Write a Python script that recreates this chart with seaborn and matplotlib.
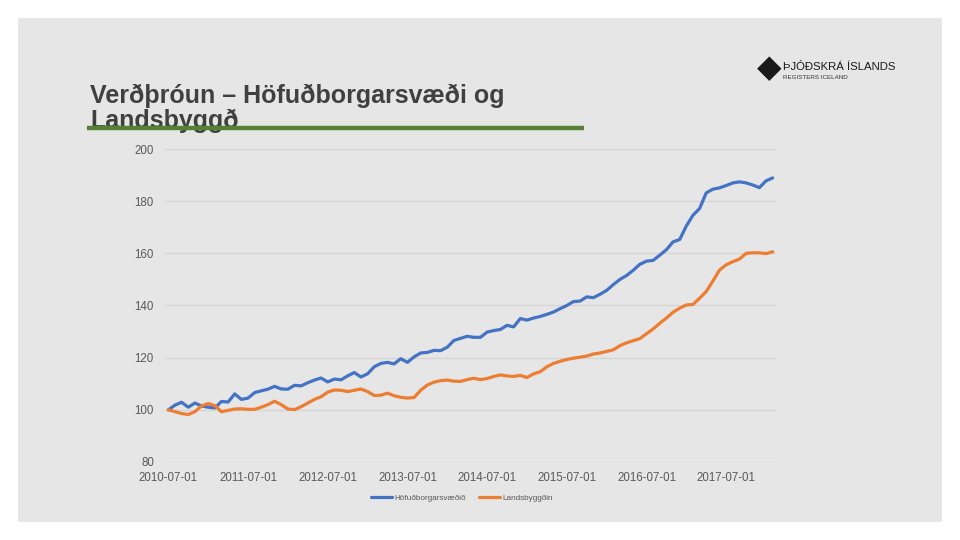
import pandas as pd
import matplotlib
matplotlib.use('Agg')
import matplotlib.pyplot as plt
import seaborn as sns
from matplotlib.patches import Rectangle

# Vísitölur, mánaðarleg gildi 2010-07 til 2018-02
hofudborg = [100.0, 101.8, 102.9, 101.0, 102.6, 101.5, 101.0, 100.7, 103.2, 103.0, 106.1, 104.0,
             104.5, 106.6, 107.3, 107.9, 109.0, 108.0, 107.9, 109.4, 109.2, 110.4, 111.4, 112.2,
             110.7, 111.8, 111.5, 113.0, 114.3, 112.6, 113.8, 116.5, 117.8, 118.2, 117.6, 119.6,
             118.2, 120.3, 121.8, 122.0, 122.8, 122.7, 124.0, 126.6, 127.4, 128.2, 127.8, 127.8,
             129.8, 130.4, 130.8, 132.4, 131.8, 135.0, 134.4, 135.2, 135.8, 136.6, 137.5, 138.8,
             140.0, 141.5, 141.7, 143.3, 143.0, 144.3, 145.8, 148.0, 150.0, 151.5, 153.5, 155.8,
             157.0, 157.3, 159.3, 161.4, 164.4, 165.3, 170.5, 174.6, 177.2, 183.2, 184.6, 185.1,
             186.0, 187.0, 187.4, 187.0, 186.2, 185.2, 187.8, 188.9]
landsbyggd = [100.0, 99.3, 98.6, 98.2, 99.3, 101.5, 102.4, 101.6, 99.3, 99.8, 100.3, 100.4,
              100.2, 100.2, 101.0, 102.0, 103.3, 102.0, 100.3, 100.1, 101.2, 102.6, 104.0, 105.0,
              106.8, 107.6, 107.5, 107.0, 107.5, 108.0, 107.0, 105.5, 105.6, 106.4, 105.4, 104.8,
              104.5, 104.7, 107.5, 109.5, 110.6, 111.2, 111.4, 111.0, 110.9, 111.6, 112.1, 111.6,
              112.0, 112.8, 113.4, 113.0, 112.8, 113.2, 112.4, 113.8, 114.6, 116.5, 117.8, 118.6,
              119.3, 119.8, 120.2, 120.6, 121.4, 121.8, 122.4, 123.0, 124.6, 125.7, 126.5, 127.3,
              129.2, 131.0, 133.2, 135.2, 137.4, 139.0, 140.2, 140.4, 142.8, 145.4, 149.4, 153.6,
              155.6, 156.8, 157.8, 160.0, 160.2, 160.2, 159.9, 160.6]
dagsetningar = pd.date_range('2010-07-01', periods=len(hofudborg), freq='MS')
x_merki = [d.strftime('%Y-%m-%d') for d in dagsetningar[::12]]

df = pd.DataFrame({
    'manudur': list(range(len(hofudborg))) * 2,
    'gildi': hofudborg + landsbyggd,
    'svaedi': ['Höfuðborgarsvæðið'] * len(hofudborg) + ['Landsbyggðin'] * len(landsbyggd),
})

sns.set_style('white')
plt.rcParams['font.family'] = ['Liberation Sans', 'DejaVu Sans']

W, H = 960, 540
fig = plt.figure(figsize=(9.6, 5.4), dpi=100)
fig.patch.set_facecolor('white')
fig.patches.append(Rectangle((18 / W, 18 / H), 924 / W, 504 / H, transform=fig.transFigure,
                             facecolor='#e6e6e6', edgecolor='none', zorder=-5))

ax = fig.add_axes([165 / W, 1 - 462 / H, (776 - 165) / W, (462 - 149) / H])
ax.set_zorder(2)
ax.set_facecolor('none')
sns.lineplot(data=df, x='manudur', y='gildi', hue='svaedi', ax=ax,
             palette=['#4472c4', '#ed7d31'], linewidth=2.3, legend=False)

ax.set_xlim(-0.5, len(hofudborg) - 0.5)
ax.set_ylim(80, 200)
ax.set_yticks(range(80, 201, 20))
ax.set_xticks(range(0, len(hofudborg), 12))
ax.set_xticklabels(x_merki)
ax.grid(axis='y', color='#d4d4d4', linewidth=0.9)
ax.grid(axis='x', visible=False)
ax.set_axisbelow(True)
for s in ax.spines.values():
    s.set_visible(False)
ax.tick_params(axis='both', length=0, labelsize=8.3, labelcolor='#595959')
ax.tick_params(axis='y', pad=8)
ax.tick_params(axis='x', pad=7)
ax.set_xlabel('')
ax.set_ylabel('')

# Skýringar
fig.legend(handles=[plt.Line2D([], [], color='#4472c4', lw=2.3),
                    plt.Line2D([], [], color='#ed7d31', lw=2.3)],
           labels=['Höfuðborgarsvæðið', 'Landsbyggðin'],
           loc='center', bbox_to_anchor=(462 / W, 1 - 498 / H), ncol=2, frameon=False,
           fontsize=5.9, handlelength=2.6, handletextpad=0.3, columnspacing=1.6,
           labelcolor='#595959')

# Titill
fig.text(90 / W, 1 - 103 / H, 'Verðþróun – Höfuðborgarsvæði og', fontsize=18,
         fontweight='bold', color='#404040', ha='left', va='baseline')
fig.text(90 / W, 1 - 128 / H, 'Landsbyggð', fontsize=18,
         fontweight='bold', color='#404040', ha='left', va='baseline')
fig.add_artist(plt.Line2D([87 / W, 584 / W], [1 - 127.7 / H, 1 - 127.7 / H],
                          transform=fig.transFigure, color='#548235', linewidth=3.2,
                          solid_capstyle='butt', zorder=10))

# Merki
fig.text(769 / W, 1 - 69 / H, '◆', fontsize=23, color='#1a1a1a', ha='center', va='center',
         family='DejaVu Sans')
fig.text(783 / W, 1 - 67 / H, 'ÞJÓÐSKRÁ ÍSLANDS', fontsize=8.2, color='#1a1a1a',
         ha='left', va='center')
fig.text(783 / W, 1 - 78 / H, 'REGISTERS ICELAND', fontsize=4.5, color='#333333',
         ha='left', va='center')

fig.savefig('out.png', dpi=100, facecolor=fig.get_facecolor())
